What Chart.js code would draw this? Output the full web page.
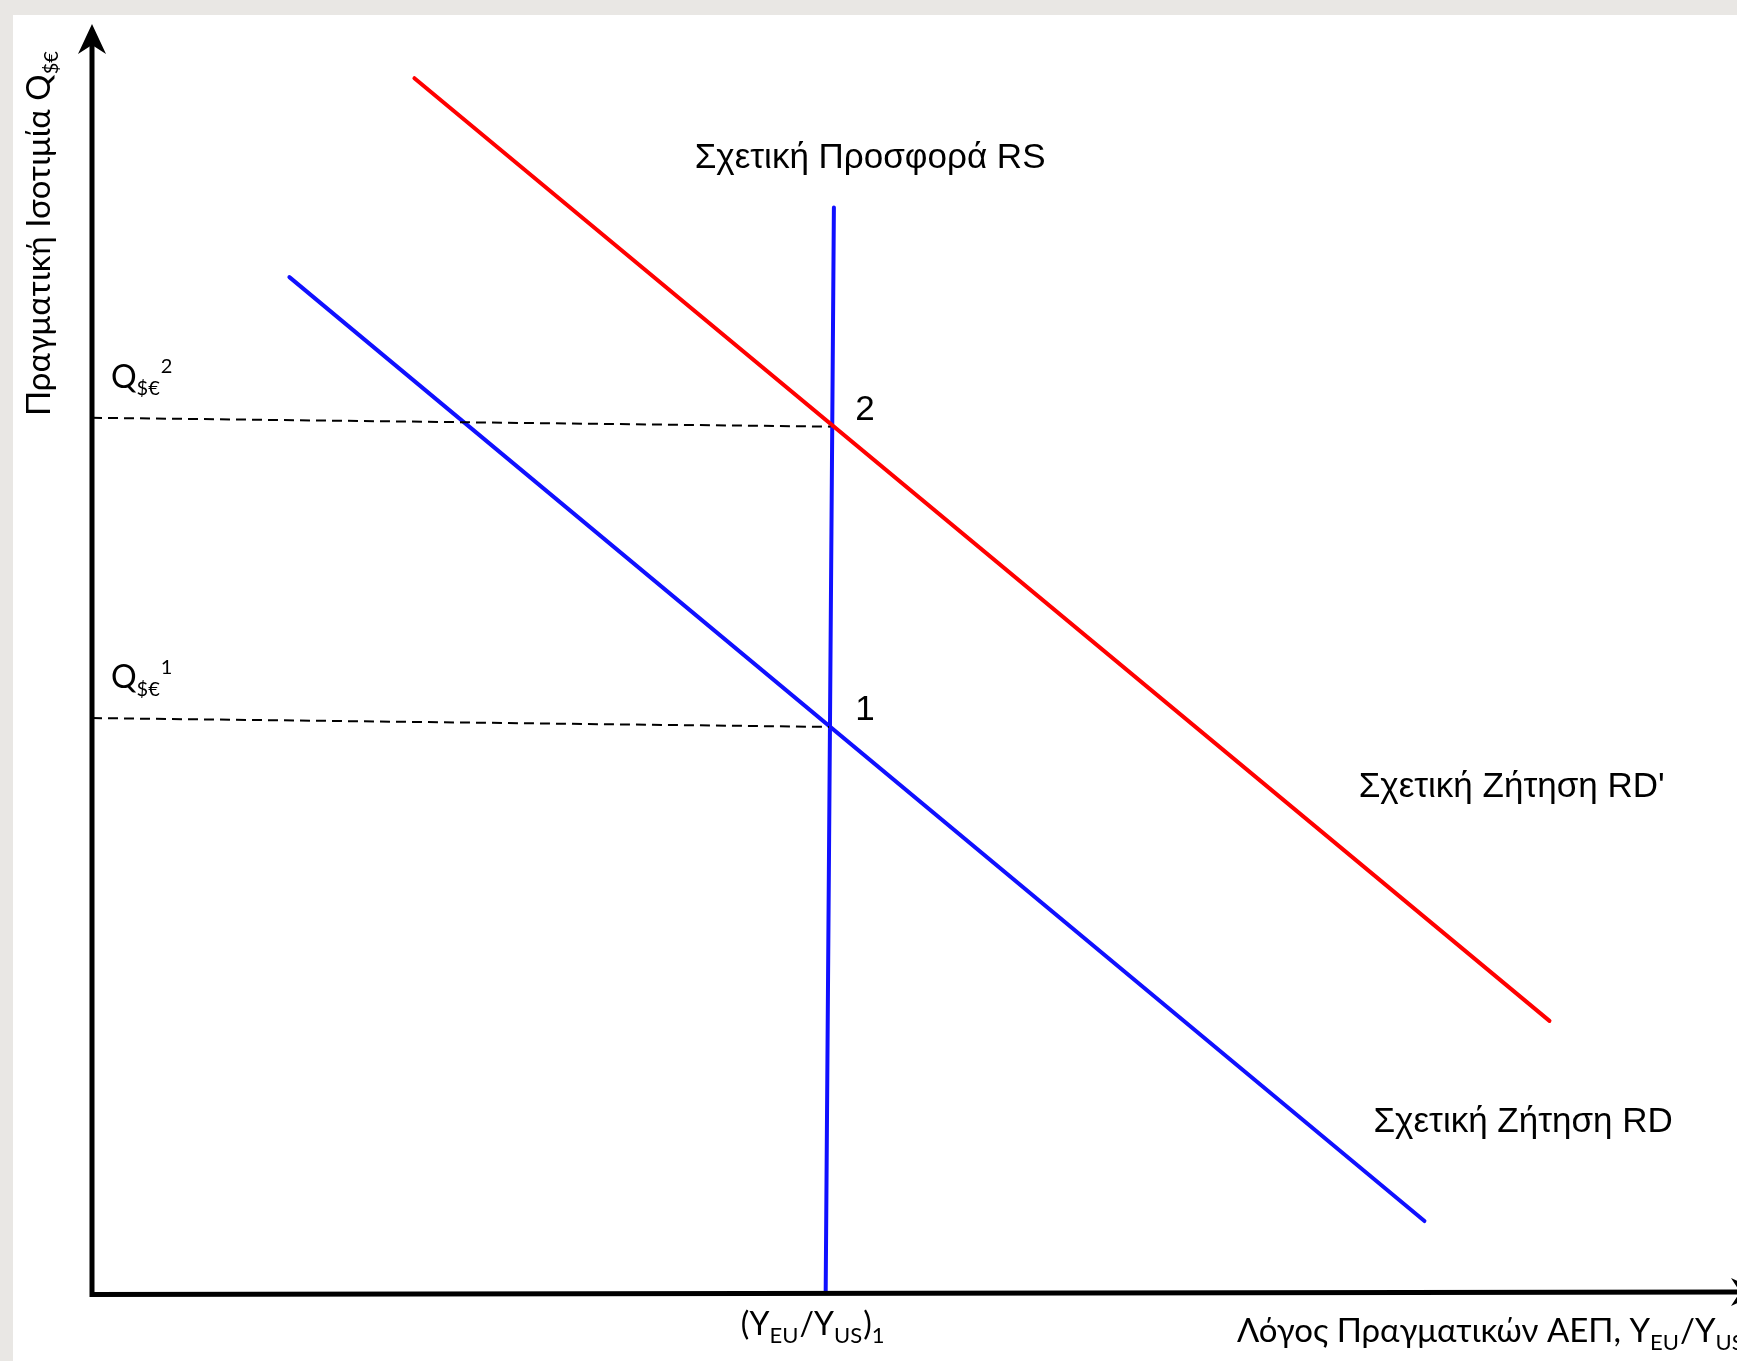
<!DOCTYPE html>
<html><head><meta charset="utf-8">
<script src="https://cdn.jsdelivr.net/npm/chart.js@4"></script>
<style>html,body{margin:0;padding:0;background:#e9e7e4;overflow:hidden} canvas{display:block}</style>
</head><body>
<canvas id="c" width="1737" height="1361"></canvas>
<script>
// ---- data (chart units) ----
const rsX = [4.51, 4.46];
const rsY = [8.56, 0.0];
const rdPrimeX = [1.96, 8.86];
const rdPrimeY = [9.58, 2.14];
const rdX = [1.20, 8.10];
const rdY = [8.01, 0.56];
const q2X = [0.0, 4.49];
const q2Y = [6.90, 6.83];
const q1X = [0.0, 4.48];
const q1Y = [4.53, 4.46];
const xTickValues = [4.46];
const xTickLabels = [[['(Y',''],['EU','sub'],['/Y',''],['US','sub'],[')',''],['1','sub']]];
const yTickValues = [6.90, 4.53];
const yTickLabels = [
  [['Q',''],['$€','sub'],['2','sup']],
  [['Q',''],['$€','sub'],['1','sup']]
];
const curveLabels = ['Σχετική Προσφορά RS', '2', '1', "Σχετική Ζήτηση RD'", 'Σχετική Ζήτηση RD'];
const xTitle = [['Λόγος Πραγματικών ΑΕΠ, Y',''],['EU','sub'],['/Y',''],['US','sub']];
const yTitle = [['Πραγματική Ισοτιμία Q',''],['$€','sub']];

function pts(xs, ys){ return xs.map((x,i)=>({x:x, y:ys[i]})); }

const ARIAL = '"Liberation Sans", Arial, sans-serif';
const HUM = 'Lato, "Open Sans", sans-serif';

function richWidth(ctx, parts, size, fam, k){
  let w = 0;
  for (const [t,s] of parts){
    ctx.font = (s ? Math.round(size*k) : size) + 'px ' + fam;
    w += ctx.measureText(t).width;
  }
  return w;
}
function drawRich(ctx, parts, x, y, size, fam, align, k){
  k = k || 0.66;
  const w = richWidth(ctx, parts, size, fam, k);
  let cx = align === 'center' ? x - w/2 : (align === 'right' ? x - w : x);
  ctx.textAlign = 'left';
  ctx.textBaseline = 'alphabetic';
  for (const [t,s] of parts){
    const sz = s ? Math.round(size*k) : size;
    ctx.font = sz + 'px ' + fam;
    let dy = 0;
    if (s === 'sub') dy = size*0.24;
    if (s === 'sup') dy = -size*0.45;
    ctx.fillText(t, cx, y + dy);
    cx += ctx.measureText(t).width + (s === 'sub' ? 1 : 0);
  }
}

const decor = {
  id: 'decor',
  beforeDraw(chart){
    const ctx = chart.ctx;
    ctx.save();
    ctx.fillStyle = '#e9e7e4';
    ctx.fillRect(0,0,chart.width,chart.height);
    ctx.fillStyle = '#ffffff';
    ctx.fillRect(13,15,chart.width-13,chart.height-15);
    ctx.restore();
  },
  afterDatasetsDraw(chart){
    const ctx = chart.ctx;
    const xs = chart.scales.x, ys = chart.scales.y;
    const x0 = xs.getPixelForValue(0), y0 = ys.getPixelForValue(0);
    const yTop = ys.getPixelForValue(ys.max);
    const xRight = xs.getPixelForValue(xs.max);
    ctx.save();
    // axes
    ctx.strokeStyle = '#000'; ctx.lineWidth = 5; ctx.lineCap = 'butt';
    ctx.beginPath();
    ctx.moveTo(x0, yTop + 12); ctx.lineTo(x0, y0 + 2.5);
    ctx.lineTo(xRight + 10, y0);
    ctx.stroke();
    // arrow heads
    ctx.fillStyle = '#000';
    ctx.beginPath();
    ctx.moveTo(x0, yTop - 1);
    ctx.lineTo(x0 + 14, yTop + 29);
    ctx.lineTo(x0, yTop + 20);
    ctx.lineTo(x0 - 14, yTop + 29);
    ctx.closePath(); ctx.fill();
    const tipX = xRight + 24;
    ctx.beginPath();
    ctx.moveTo(tipX, y0);
    ctx.lineTo(tipX - 30, y0 - 14);
    ctx.lineTo(tipX - 21, y0);
    ctx.lineTo(tipX - 30, y0 + 14);
    ctx.closePath(); ctx.fill();

    // curve labels (Arial-like)
    ctx.fillStyle = '#000';
    ctx.font = '35px ' + ARIAL;
    ctx.textBaseline = 'middle';
    ctx.textAlign = 'center';
    ctx.fillText(curveLabels[0], xs.getPixelForValue(4.73), ys.getPixelForValue(8.95));
    ctx.textAlign = 'left';
    ctx.fillText(curveLabels[1], xs.getPixelForValue(4.64), ys.getPixelForValue(6.96));
    ctx.fillText(curveLabels[2], xs.getPixelForValue(4.64), ys.getPixelForValue(4.59));
    ctx.fillText(curveLabels[3], xs.getPixelForValue(7.70), ys.getPixelForValue(3.98));
    ctx.fillText(curveLabels[4], xs.getPixelForValue(7.79), ys.getPixelForValue(1.34));

    // y "ticks" (Q labels)
    yTickValues.forEach((v,i)=>{
      drawRich(ctx, yTickLabels[i], x0 + 19, ys.getPixelForValue(v) - 30, 32, HUM, 'left', 0.62);
    });
    // x tick
    xTickValues.forEach((v,i)=>{
      drawRich(ctx, xTickLabels[i], xs.getPixelForValue(v) - 14, y0 + 43, 32, HUM, 'center', 0.68);
    });
    // x title
    drawRich(ctx, xTitle, 1237, y0 + 50, 33, HUM, 'left', 0.68);
    // y title rotated
    ctx.save();
    ctx.translate(50, 416);
    ctx.rotate(-Math.PI/2);
    drawRich(ctx, yTitle, 0, 0, 33, HUM, 'left', 0.62);
    ctx.restore();
    ctx.restore();
  }
};

const ds = (data, color, width, dash) => ({
  data: data, showLine: true, borderColor: color, backgroundColor: color,
  borderWidth: width, borderDash: dash || [], pointRadius: 0, pointHoverRadius: 0,
  borderCapStyle: dash ? 'butt' : 'round', fill: false, tension: 0
});

new Chart(document.getElementById('c'), {
  type: 'scatter',
  data: {
    datasets: [
      ds(pts(q2X, q2Y), '#000000', 2, [10, 6]),
      ds(pts(q1X, q1Y), '#000000', 2, [10, 6]),
      ds(pts(rdPrimeX, rdPrimeY), '#ff0000', 4),
      ds(pts(rdX, rdY), '#1010ff', 4),
      ds(pts(rsX, rsY), '#1010ff', 4)
    ]
  },
  options: {
    responsive: false,
    devicePixelRatio: 1,
    animation: false,
    events: [],
    layout: { padding: { left: 92, top: 25, right: 0, bottom: 69 } },
    plugins: { legend: { display: false }, tooltip: { enabled: false } },
    scales: {
      x: { type: 'linear', min: 0, max: 10, display: false },
      y: { type: 'linear', min: 0, max: 10, display: false }
    }
  },
  plugins: [decor]
});
</script>
</body></html>
